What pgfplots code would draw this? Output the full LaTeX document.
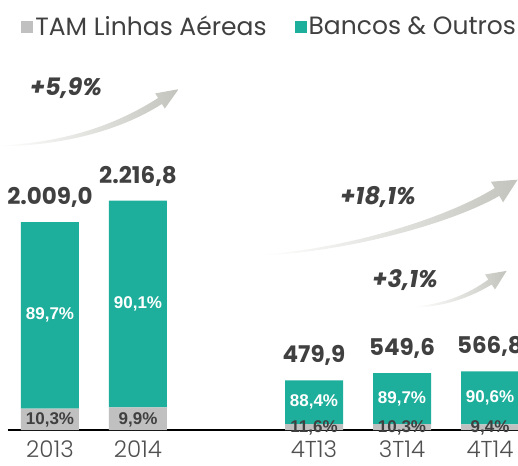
\documentclass[border=0pt]{standalone}
\usepackage{pgfplots}
\pgfplotsset{compat=1.18}
\usepackage{pgfplotstable}
\usepackage{fontspec}
\setmainfont{Poppins}
\newfontfamily\lightfont{Poppins Light}
\newfontfamily\arialfont{Liberation Sans}
\definecolor{tealbar}{RGB}{29,175,155}
\definecolor{graybar}{RGB}{192,192,192}
\definecolor{txt}{RGB}{64,64,64}
\definecolor{ticktxt}{RGB}{80,80,80}
\definecolor{arrowgray}{RGB}{196,196,190}
\definecolor{baseline}{RGB}{125,125,125}

\pgfplotstableread{
x gray teal tot lab glab tlab
0 206.9 1802.1 2009.0 2.009,0 10,3\% 89,7\%
1 219.5 1997.3 2216.8 2.216,8 9,9\% 90,1\%
3 55.7 424.2 479.9 479,9 11,6\% 88,4\%
4 56.6 493.0 549.6 549,6 10,3\% 89,7\%
5 53.3 513.5 566.8 566,8 9,4\% 90,6\%
}\datatab

\begin{document}
\begin{tikzpicture}
\begin{axis}[
  at={(0,0)}, anchor=south west,
  width=518pt, height=430pt, scale only axis,
  ybar stacked, bar width=58pt,
  xmin=-0.568, xmax=5.318, ymin=0, ymax=4155,
  hide y axis,
  axis x line=bottom, x axis line style={draw=none},
  xtick={0,1,3,4,5}, xticklabels={2013,2014,4T13,3T14,4T14},
  major tick length=0pt,
  xticklabel style={font=\lightfont\fontsize{23}{23}\selectfont, text=ticktxt, yshift=-7pt},
  legend style={at={(0.035,0.972)}, anchor=north west, draw=none, fill=none,
    font=\fontsize{25}{25}\selectfont, text=txt,
    /tikz/every even column/.append style={column sep=26pt}},
  legend columns=2,
  legend image code/.code={\fill[#1] (0pt,-6pt) rectangle (12pt,6pt);},
]
\addplot[fill=graybar, draw=none, nodes near coords, point meta=explicit symbolic,
  every node near coord/.append style={anchor=center, yshift=-1pt, font=\arialfont\bfseries\fontsize{17}{17}\selectfont, text=txt}]
  table[x=x, y=gray, meta=glab]{\datatab};
\addlegendentry{TAM Linhas Aéreas}
\addplot[fill=tealbar, draw=none, nodes near coords, point meta=explicit symbolic,
  every node near coord/.append style={anchor=center, font=\arialfont\bfseries\fontsize{17}{17}\selectfont, text=white}]
  table[x=x, y=teal, meta=tlab]{\datatab};
\addlegendentry{Bancos \& Outros}
\draw[baseline, line width=1.5pt] (axis cs:-0.48,0) -- (axis cs:5.318,0);
\end{axis}

\begin{axis}[
  at={(0,0)}, anchor=south west,
  width=518pt, height=430pt, scale only axis,
  xmin=-0.568, xmax=5.318, ymin=0, ymax=4155,
  hide axis,
]
\addplot[draw=none, mark=none, nodes near coords, point meta=explicit symbolic,
  every node near coord/.append style={anchor=south, font=\bfseries\fontsize{23}{23}\selectfont, text=txt, yshift=11pt}]
  table[x=x, y=tot, meta=lab]{\datatab};
\end{axis}

\begin{scope}[x=1pt, y=1pt]
% growth arrows
\shade[left color=white, right color=arrowgray]
  (0,284.5) .. controls (80,288.5) and (128,313) .. (158.1,332) -- (155.2,336.6) -- (178.6,340.8)
  -- (164.8,321.4) -- (161.9,326) .. controls (132,307) and (80,285) .. (0,283.5) -- cycle;
\shade[left color=white, right color=arrowgray]
  (262,175.5) .. controls (350,181.5) and (448,213) .. (494.7,241.9) -- (490.9,248.3) -- (517.6,250.3)
  -- (503.1,227.7) -- (499.3,234.1) .. controls (452,207) and (350,178.5) .. (262,174.5) -- cycle;
\shade[left color=white, right color=arrowgray]
  (415,123.5) .. controls (450,126.5) and (474,140) .. (488.3,150.5) -- (485,155.5) -- (506.6,159.1)
  -- (495,140.5) -- (491.7,145.5) .. controls (476,136) and (450,123.5) .. (415,122.5) -- cycle;

\node[font=\bfseries\itshape\fontsize{24}{24}\selectfont, text=txt] at (66,342) {+5,9\%};
\node[font=\bfseries\itshape\fontsize{24}{24}\selectfont, text=txt] at (378,233) {+18,1\%};
\node[font=\bfseries\itshape\fontsize{24}{24}\selectfont, text=txt] at (405,150) {+3,1\%};
\end{scope}

\pgfresetboundingbox
\useasboundingbox (0,-35pt) rectangle (518pt,430pt);
\end{tikzpicture}
\end{document}
